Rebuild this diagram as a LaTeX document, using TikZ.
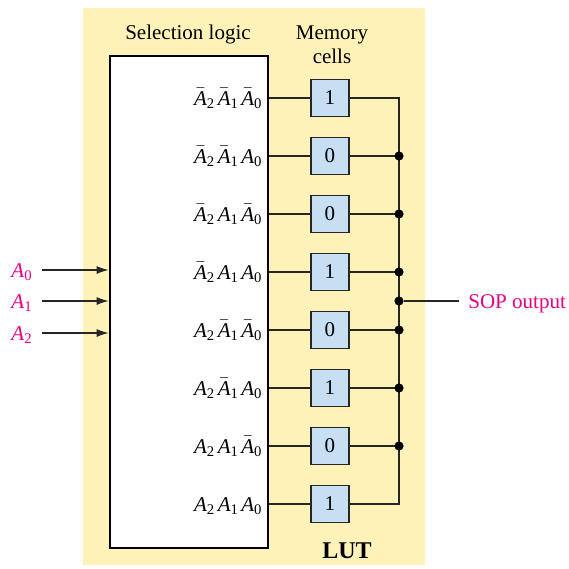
\documentclass[tikz,border=0pt]{standalone}
\usepackage{amsmath}
\usepackage{fontspec}
\setmainfont{Liberation Serif}
\usepackage{xcolor}
\definecolor{lutbg}{RGB}{255,242,184}
\definecolor{cellfill}{RGB}{198,223,243}
\definecolor{sigcol}{RGB}{228,0,127}
\usepackage{tikz}
\usetikzlibrary{arrows.meta,positioning}
\newcommand{\lit}[1]{\text{\itshape A}_{\text{#1}}\mkern2mu}
\newcommand{\nlit}[1]{\bar{\text{\itshape A}}_{\text{#1}}\mkern2mu}
\tikzset{
  cell/.style={draw=black!85,fill=cellfill,line width=0.7pt,%
    minimum width=19pt,minimum height=18.5pt,inner sep=0pt},
  term/.style={anchor=base east,inner sep=0pt},
  wire/.style={draw=black!85,line width=0.6pt},
  inp/.style={wire,-{Latex[length=6pt,width=4pt]}},
  sig/.style={text=sigcol,inner sep=0pt},
  junc/.style={circle,fill=black,inner sep=0pt,minimum size=4.6pt},
}

\begin{document}
\begin{tikzpicture}[x=0.5pt,y=-0.5pt,node distance=9.8pt,%
  font=\fontsize{10.5}{12}\selectfont]
\useasboundingbox (0,0) rectangle (569,569);
\fill[lutbg] (83,8) rectangle (425,565);
\node[draw,line width=1.4pt,fill=white,minimum width=79pt,minimum height=246pt,%
  inner sep=0pt] (sel) at (189,302) {};
\node (seltitle) at (188,34) {Selection logic};
\node[align=center] (memtitle) at (332,45) {Memory\\cells};
% memory cells
\node[cell] (c1) at (330,98) {1};
\node[cell,below=of c1] (c2) {0};
\node[cell,below=of c2] (c3) {0};
\node[cell,below=of c3] (c4) {1};
\node[cell,below=of c4] (c5) {0};
\node[cell,below=of c5] (c6) {1};
\node[cell,below=of c6] (c7) {0};
\node[cell,below=of c7] (c8) {1};
% minterms
\node[term] (t1) at ([xshift=-2pt,yshift=-3.5pt]sel.east |- c1) {$\nlit{2}\nlit{1}\nlit{0}$};
\node[term] (t2) at ([xshift=-2pt,yshift=-3.5pt]sel.east |- c2) {$\nlit{2}\nlit{1}\lit{0}$};
\node[term] (t3) at ([xshift=-2pt,yshift=-3.5pt]sel.east |- c3) {$\nlit{2}\lit{1}\nlit{0}$};
\node[term] (t4) at ([xshift=-2pt,yshift=-3.5pt]sel.east |- c4) {$\nlit{2}\lit{1}\lit{0}$};
\node[term] (t5) at ([xshift=-2pt,yshift=-3.5pt]sel.east |- c5) {$\lit{2}\nlit{1}\nlit{0}$};
\node[term] (t6) at ([xshift=-2pt,yshift=-3.5pt]sel.east |- c6) {$\lit{2}\nlit{1}\lit{0}$};
\node[term] (t7) at ([xshift=-2pt,yshift=-3.5pt]sel.east |- c7) {$\lit{2}\lit{1}\nlit{0}$};
\node[term] (t8) at ([xshift=-2pt,yshift=-3.5pt]sel.east |- c8) {$\lit{2}\lit{1}\lit{0}$};
\draw[wire] (sel.east |- c1) -- (c1.west);
\draw[wire] (sel.east |- c2) -- (c2.west);
\draw[wire] (sel.east |- c3) -- (c3.west);
\draw[wire] (sel.east |- c4) -- (c4.west);
\draw[wire] (sel.east |- c5) -- (c5.west);
\draw[wire] (sel.east |- c6) -- (c6.west);
\draw[wire] (sel.east |- c7) -- (c7.west);
\draw[wire] (sel.east |- c8) -- (c8.west);
% output bus
\coordinate (bus) at (399,301);
\coordinate (sop) at (459,301);
\draw[wire] (c1.east) -| (bus) |- (c8.east);
\draw[wire] (c2.east) -- (c2.east -| bus) node[junc]{};
\draw[wire] (c3.east) -- (c3.east -| bus) node[junc]{};
\draw[wire] (c4.east) -- (c4.east -| bus) node[junc]{};
\draw[wire] (c5.east) -- (c5.east -| bus) node[junc]{};
\draw[wire] (c6.east) -- (c6.east -| bus) node[junc]{};
\draw[wire] (c7.east) -- (c7.east -| bus) node[junc]{};
\node[junc] (busdot) at (bus) {};
\draw[wire] (busdot) -- (sop);
\node[sig,anchor=base west] (soplabel) at ([xshift=4.5pt,yshift=-3.5pt]sop) {SOP output};
% inputs
\coordinate (a0) at (42,270);
\coordinate (a1) at (42,301);
\coordinate (a2) at (42,333);
\draw[inp] (a0) -- (a0 -| sel.west);
\draw[inp] (a1) -- (a1 -| sel.west);
\draw[inp] (a2) -- (a2 -| sel.west);
\node[sig,anchor=base east] (l0) at ([xshift=-4.5pt,yshift=-3.5pt]a0) {$\text{\itshape A}_{\text{0}}$};
\node[sig,anchor=base east] (l1) at ([xshift=-4.5pt,yshift=-3.5pt]a1) {$\text{\itshape A}_{\text{1}}$};
\node[sig,anchor=base east] (l2) at ([xshift=-4.5pt,yshift=-3.5pt]a2) {$\text{\itshape A}_{\text{2}}$};
\node[font=\fontsize{12}{14}\selectfont\bfseries] (lut) at (347,551) {LUT};
\end{tikzpicture}
\end{document}
